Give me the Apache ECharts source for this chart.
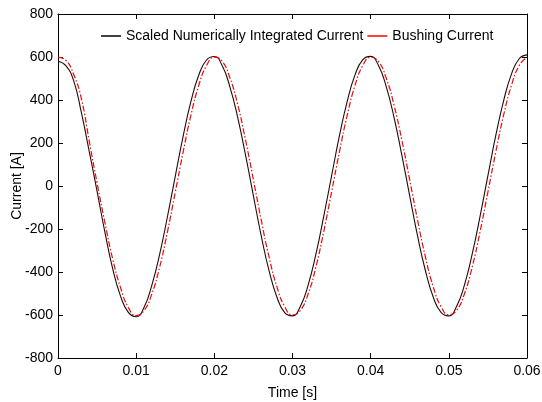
<!DOCTYPE html>
<html>
<head>
<meta charset="utf-8">
<script src="https://cdn.jsdelivr.net/npm/echarts@6/dist/echarts.min.js"></script>
<style>
  html, body { margin: 0; padding: 0; background: #fff; }
  #chart { width: 542px; height: 402px; }
</style>
</head>
<body>
<div id="chart"></div>
<script>
// Sample times [s], 1 ms steps
const timeS = [
  0.000, 0.001, 0.002, 0.003, 0.004, 0.005, 0.006, 0.007, 0.008, 0.009,
  0.010, 0.011, 0.012, 0.013, 0.014, 0.015, 0.016, 0.017, 0.018, 0.019,
  0.020, 0.021, 0.022, 0.023, 0.024, 0.025, 0.026, 0.027, 0.028, 0.029,
  0.030, 0.031, 0.032, 0.033, 0.034, 0.035, 0.036, 0.037, 0.038, 0.039,
  0.040, 0.041, 0.042, 0.043, 0.044, 0.045, 0.046, 0.047, 0.048, 0.049,
  0.050, 0.051, 0.052, 0.053, 0.054, 0.055, 0.056, 0.057, 0.058, 0.059,
  0.060
];

// Scaled numerically integrated current [A]
const integratedCurrent = [
  580, 560, 490, 340, 160, -25, -215, -385, -512, -588,
  -608, -565, -462, -318, -143, 45, 230, 392, 515, 586,
  602, 560, 460, 317, 142, -46, -232, -394, -516, -589,
  -604, -560, -461, -316, -140, 47, 233, 394, 517, 588,
  603, 560, 461, 317, 141, -47, -232, -393, -516, -588,
  -604, -559, -460, -315, -140, 48, 234, 395, 519, 592,
  610
];

// Bushing current [A]
const bushingCurrent = [
  598, 585, 520, 405, 208, 14, -170, -340, -472, -565,
  -603, -580, -503, -378, -214, -30, 156, 328, 467, 560,
  599, 580, 503, 378, 213, 29, -158, -330, -468, -561,
  -600, -579, -502, -376, -212, -28, 158, 329, 468, 561,
  599, 579, 501, 375, 212, 28, -158, -329, -468, -561,
  -599, -578, -501, -375, -212, -28, 157, 328, 467, 560,
  600
];

const seriesNames = ['Scaled Numerically Integrated Current', 'Bushing Current'];

const pairs = (ys) => timeS.map((t, i) => [t, ys[i]]);

const font = 'Liberation Sans, Arial, sans-serif';
const axisLine = { show: true, onZero: false, lineStyle: { color: '#000', width: 1 } };
const tickIn = { show: true, inside: true, length: 5, lineStyle: { color: '#000' } };

const chart = echarts.init(document.getElementById('chart'), null, { renderer: 'canvas' });
chart.setOption({
  animation: false,
  backgroundColor: '#fff',
  grid: { left: 58, right: 15, top: 14, bottom: 44, containLabel: false, outerBoundsMode: 'none' },
  legend: {
    show: true,
    top: 24,
    left: 96,
    itemWidth: 20,
    itemHeight: 1.5,
    itemGap: 4,
    icon: 'rect',
    textStyle: { fontFamily: font, fontSize: 14, color: '#000' },
    data: seriesNames
  },
  xAxis: [
    {
      type: 'value', position: 'bottom', min: 0, max: 0.06, interval: 0.01,
      axisLine, axisTick: tickIn, splitLine: { show: false },
      axisLabel: { fontFamily: font, fontSize: 14, color: '#000', margin: 6,
                   formatter: (v) => (v === 0 ? '0' : v.toFixed(2)) },
      name: 'Time [s]', nameLocation: 'middle', nameGap: 28, nameMoveOverlap: false,
      nameTextStyle: { fontFamily: font, fontSize: 14, color: '#000' }
    },
    {
      type: 'value', position: 'top', min: 0, max: 0.06, interval: 0.01,
      axisLine, axisTick: tickIn, axisLabel: { show: false }, splitLine: { show: false }
    }
  ],
  yAxis: [
    {
      type: 'value', position: 'left', min: -800, max: 800, interval: 200,
      axisLine, axisTick: tickIn, splitLine: { show: false },
      axisLabel: { fontFamily: font, fontSize: 14, color: '#000', margin: 5 },
      name: 'Current [A]', nameLocation: 'middle', nameGap: 34, nameMoveOverlap: false,
      nameTextStyle: { fontFamily: font, fontSize: 14, color: '#000' }
    },
    {
      type: 'value', position: 'right', min: -800, max: 800, interval: 200,
      axisLine, axisTick: tickIn, axisLabel: { show: false }, splitLine: { show: false }
    }
  ],
  series: [
    {
      name: seriesNames[0], type: 'line', data: pairs(integratedCurrent),
      smooth: true, showSymbol: false, color: '#000',
      lineStyle: { color: '#111', width: 1.1 }, z: 2
    },
    {
      name: seriesNames[1], type: 'line', data: pairs(bushingCurrent),
      smooth: true, showSymbol: false, color: '#ff0000',
      lineStyle: { color: '#ff0000', width: 1.2, type: [6, 2, 1.5, 2] }, z: 3
    }
  ]
});
</script>
</body>
</html>
